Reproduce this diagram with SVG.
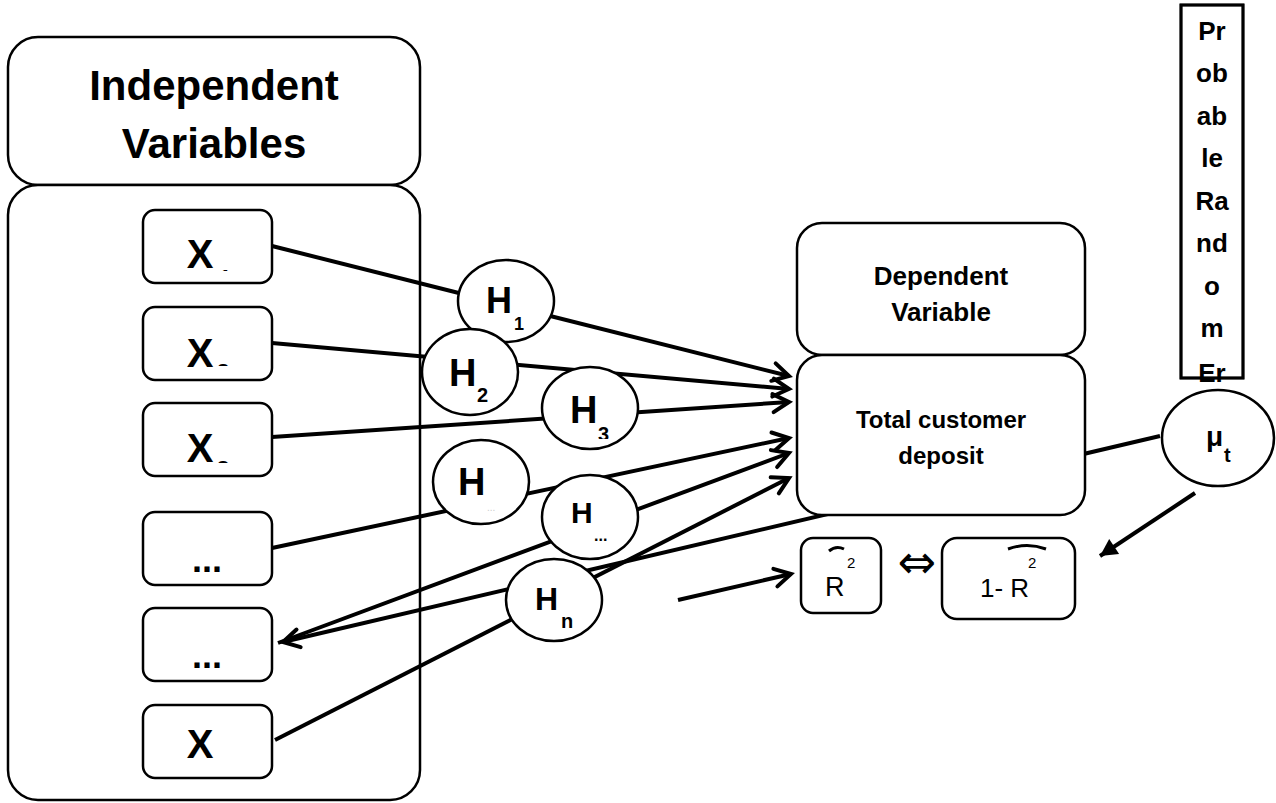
<svg xmlns="http://www.w3.org/2000/svg" width="1276" height="803" viewBox="0 0 1276 803">
<style>
text{font-family:"Liberation Sans",Arial,sans-serif;fill:#000}
.b{font-weight:bold}
.box{fill:#fff;stroke:#000;stroke-width:2.5}
.ell{fill:#fff;stroke:#000;stroke-width:2.5}
.ln{stroke:#000;stroke-width:4;fill:none}
</style>
<defs>
<marker id="v" markerUnits="userSpaceOnUse" viewBox="-20 -12 28 24" refX="0" refY="0" markerWidth="28" markerHeight="24" orient="auto"><path d="M-16,-9 L0,0 L-16,9" fill="none" stroke="#000" stroke-width="4" stroke-linecap="round"/></marker>
<marker id="f" markerUnits="userSpaceOnUse" viewBox="-20 -12 24 24" refX="0" refY="0" markerWidth="24" markerHeight="24" orient="auto"><path d="M-17,-9 L0,0 L-17,9 z" fill="#000"/></marker>
<clipPath id="c1"><rect x="210" y="255" width="30" height="16"/></clipPath>
<clipPath id="c2"><rect x="210" y="350" width="30" height="16"/></clipPath>
<clipPath id="c3"><rect x="210" y="447" width="30" height="16"/></clipPath>
<clipPath id="ch3"><rect x="590" y="420" width="30" height="19"/></clipPath>
</defs>

<g id="indep-header"><rect class="box" x="8" y="37" width="412" height="148" rx="30"/>
<text class="b" x="214" y="100" font-size="42" text-anchor="middle">Independent</text>
<text class="b" x="214" y="158" font-size="42" text-anchor="middle">Variables</text></g>
<g id="indep-body"><rect class="box" x="8" y="185" width="412" height="615" rx="30"/></g>

<g id="x1"><rect class="box" x="143" y="210" width="129" height="73" rx="12"/>
<text class="b" x="200" y="268" font-size="40" text-anchor="middle">X</text>
<text class="b" x="219" y="285" font-size="22" clip-path="url(#c1)">1</text></g>
<g id="x2"><rect class="box" x="143" y="307" width="129" height="73" rx="12"/>
<text class="b" x="200" y="367" font-size="40" text-anchor="middle">X</text>
<text class="b" x="217" y="379" font-size="22" clip-path="url(#c2)">2</text></g>
<g id="x3"><rect class="box" x="143" y="403" width="129" height="73" rx="12"/>
<text class="b" x="200" y="462" font-size="40" text-anchor="middle">X</text>
<text class="b" x="217" y="476" font-size="22" clip-path="url(#c3)">3</text></g>
<g id="x4"><rect class="box" x="143" y="512" width="129" height="73" rx="12"/>
<text class="b" x="207" y="572" font-size="36" text-anchor="middle">...</text></g>
<g id="x5"><rect class="box" x="143" y="608" width="129" height="73" rx="12"/>
<text class="b" x="207" y="668" font-size="36" text-anchor="middle">...</text></g>
<g id="x6"><rect class="box" x="143" y="705" width="129" height="73" rx="12"/>
<text class="b" x="200" y="758" font-size="40" text-anchor="middle">X</text></g>

<g id="connectors">
<path class="ln" d="M272,246 L789,376" marker-end="url(#v)"/>
<path class="ln" d="M272,343 L789,389" marker-end="url(#v)"/>
<path class="ln" d="M272,437 L789,402" marker-end="url(#v)"/>
<path class="ln" d="M272,548 L789,438" marker-end="url(#v)"/>
<path class="ln" d="M278,643 L789,453" marker-end="url(#v)"/>
<path class="ln" d="M275,740 L789,478" marker-end="url(#v)"/>
<path class="ln" d="M1160,436 L283,642" marker-end="url(#v)"/>
<path class="ln" d="M678,600 L791,574" marker-end="url(#v)"/>
<path class="ln" d="M1195,493 L1100,556" marker-end="url(#f)"/>
</g>

<g id="h1"><ellipse class="ell" cx="506" cy="301" rx="48" ry="41"/>
<text class="b" x="486" y="313" font-size="36">H</text><text class="b" x="514" y="330" font-size="18">1</text></g>
<g id="h2"><ellipse class="ell" cx="470" cy="372" rx="48" ry="43"/>
<text class="b" x="449" y="386" font-size="38">H</text><text class="b" x="477" y="402" font-size="20">2</text></g>
<g id="h3"><ellipse class="ell" cx="590" cy="408" rx="48" ry="41"/>
<text class="b" x="570" y="423" font-size="38">H</text><text class="b" x="598" y="441" font-size="20" clip-path="url(#ch3)">3</text></g>
<g id="h4"><ellipse class="ell" cx="481" cy="482" rx="48" ry="42"/>
<text class="b" x="458" y="495" font-size="38">H</text><text x="487" y="511" font-size="10" style="fill:#ccc">...</text></g>
<g id="h5"><ellipse class="ell" cx="590" cy="517" rx="48" ry="42"/>
<text class="b" x="571" y="523" font-size="30">H</text><text class="b" x="594" y="541" font-size="16">...</text></g>
<g id="hn"><ellipse class="ell" cx="554" cy="600" rx="48" ry="41"/>
<text class="b" x="535" y="610" font-size="32">H</text><text class="b" x="561" y="628" font-size="20">n</text></g>

<g id="dep-header"><rect class="box" x="797" y="223" width="288" height="132" rx="25"/>
<text class="b" x="941" y="285" font-size="26" text-anchor="middle">Dependent</text>
<text class="b" x="941" y="321" font-size="26" text-anchor="middle">Variable</text></g>
<g id="dep-body"><rect class="box" x="797" y="355" width="288" height="160" rx="25"/>
<text class="b" x="941" y="428" font-size="24" text-anchor="middle">Total customer</text>
<text class="b" x="941" y="464" font-size="24" text-anchor="middle">deposit</text></g>

<g id="error"><rect class="box" x="1181" y="5" width="62" height="373" rx="0"/>
<g class="b" font-size="26" text-anchor="middle">
<text x="1212" y="40">Pr</text><text x="1212" y="82">ob</text><text x="1212" y="125">ab</text>
<text x="1212" y="167">le</text><text x="1212" y="210">Ra</text><text x="1212" y="252">nd</text>
<text x="1212" y="295">o</text><text x="1212" y="337">m</text><text x="1212" y="382">Er</text></g>
<rect x="1181" y="5" width="62" height="373" fill="none" stroke="#000" stroke-width="3"/></g>

<g id="mu"><ellipse class="ell" cx="1218" cy="438" rx="56" ry="48"/>
<text class="b" x="1206" y="446" font-size="28">μ</text><text class="b" x="1224" y="462" font-size="20">t</text></g>

<g id="r2"><rect class="box" x="801" y="538" width="80" height="75" rx="12"/>
<path d="M829,551 Q836,545 844,549" fill="none" stroke="#000" stroke-width="3"/>
<text x="825" y="596" font-size="27">R</text><text x="847" y="568" font-size="15">2</text></g>
<g id="equiv"><text x="917" y="578" font-size="46" text-anchor="middle" style="font-family:'DejaVu Sans',sans-serif">⇔</text></g>
<g id="r2c"><rect class="box" x="942" y="538" width="133" height="81" rx="15"/>
<path d="M1008,549 Q1027,542 1046,549" fill="none" stroke="#000" stroke-width="3"/>
<text x="980" y="597" font-size="26">1- R</text><text x="1028" y="568" font-size="15">2</text></g>
</svg>
